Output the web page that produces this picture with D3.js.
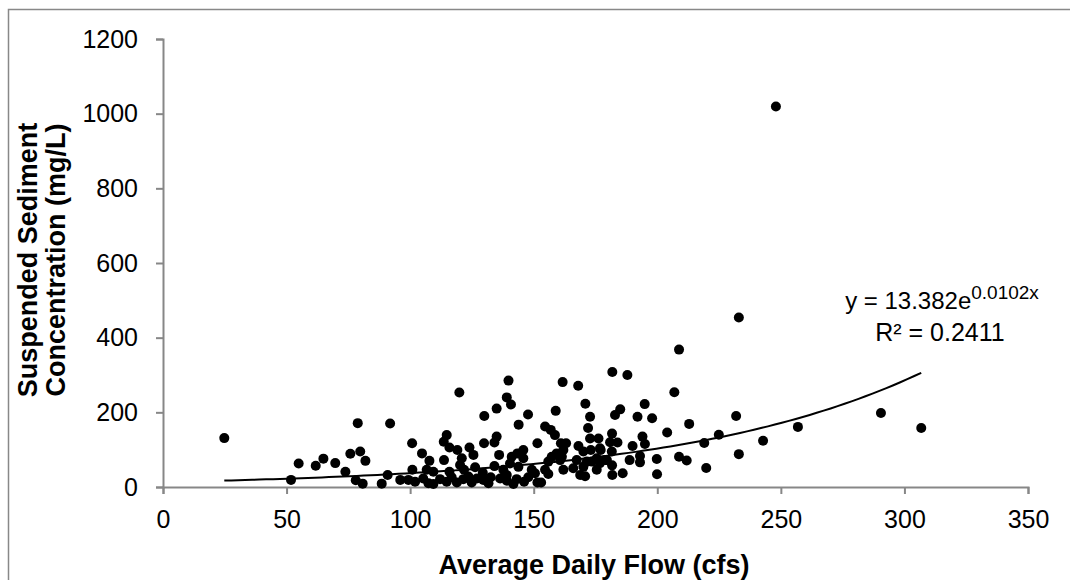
<!DOCTYPE html>
<html>
<head>
<meta charset="utf-8">
<script src="https://cdn.jsdelivr.net/npm/d3@7"></script>
<style>
  body { margin: 0; background: #fff; }
  svg { font-family: "Liberation Sans", Arial, sans-serif; }
</style>
</head>
<body>
<svg width="1070" height="580"></svg>
<script>
// flow (cfs), concentration (mg/L)
const flow = [
  24.8, 51.8, 54.9, 61.8, 64.9, 69.7, 73.8, 75.8, 78.8, 79.8, 81.9, 78, 80.8, 88.5,
  90.9, 91.9, 96,
  119.9, 139.1, 140.8, 135, 130, 147.7, 143.9, 100.8, 104.8, 107.8, 114.8, 113.6, 115.9,
  119.1, 124, 125.6, 120.9, 120.2, 113.7, 129.9, 134.1, 135, 136, 151.5, 145.8, 143.4,
  141.1, 145.8, 140.4, 143.8, 134.1, 126.3, 121.8, 100.9, 106.7, 109.4, 115.9, 129.4,
  137.7, 149.2, 139.1, 150.5,
  99.3, 102, 105.3, 107.4, 109.4, 112.1, 114.8, 116.8, 118.9, 121.5, 123.6, 124.9, 127,
  129.6, 131.7, 132.6, 136.4, 139.1, 141.8, 143.1, 146.1, 147.8, 151.5, 153,
  139.8, 161.7, 168,
  154.6, 156.9, 158.6, 158.9, 161, 163.1, 162, 159.3, 157.3, 161.4, 168.1, 155.9, 160.7,
  167.4, 154.6, 162, 166, 168.8, 155.9,
  170.9, 172.8, 172, 182.9, 185, 194.9, 192, 197.9, 181.8, 187.9, 172.8, 176.2, 181.7,
  183.9, 180.9, 194, 195, 190, 176.8, 181.6, 170.1, 173.1, 177.1, 173.5, 171.5, 176.8,
  178.9, 175.5, 179.6, 181.7, 188.8, 193, 193, 199.8, 170.1, 175.5, 170.8, 181.8, 186,
  199.9, 204, 206.9, 208.8, 208.8, 211.9, 212.9, 219, 219.8, 224.9, 231.9, 233, 233,
  242.8, 248, 256.9, 290.5, 306.8
];
const ssc = [
  131, 19, 63, 57, 76, 64, 41, 89, 171, 95, 70, 18, 9, 9,
  32, 170, 19,
  253, 240, 221, 210, 190, 194, 167, 117, 90, 70, 139, 121, 106,
  99, 106, 86, 77, 59, 72, 117, 119, 135, 86, 117, 99, 90,
  81, 77, 63, 54, 56, 53, 46, 46, 46, 41, 41, 38,
  46, 46, 32, 37,
  19, 14, 23, 10, 8, 21, 14, 26, 12, 21, 28, 12, 23,
  19, 10, 26, 23, 17, 8, 21, 14, 26, 12, 12,
  285, 281, 271,
  162, 153, 139, 204, 117, 117, 99, 90, 81, 81, 110, 68, 72,
  72, 46, 46, 50, 32, 35,
  223, 188, 158, 193, 208, 222, 188, 184, 308, 300, 130, 130, 143,
  119, 120, 135, 115, 110, 104, 95, 95, 99, 99, 68, 68, 64,
  72, 77, 72, 58, 72, 66, 83, 75, 54, 46, 29, 32, 37,
  34, 146, 254, 368, 81, 71, 169, 118, 51, 140, 190, 454, 88,
  124, 1019, 161, 198, 158
];
const xTicks = [0, 50, 100, 150, 200, 250, 300, 350];
const yTicks = [0, 200, 400, 600, 800, 1000, 1200];
// exponential fit shown on the chart
const fitA = 13.382;
const fitB = 0.0102;

const svg = d3.select("svg");
const plotL = 163, plotR = 1028, plotT = 39, plotB = 487;

const x = d3.scaleLinear().domain([0, 350]).range([plotL, plotR]);
const y = d3.scaleLinear().domain([0, 1200]).range([plotB, plotT]);

svg.append("rect")
  .attr("x", 8.5).attr("y", 9.5)
  .attr("width", 1200).attr("height", 700)
  .attr("fill", "none").attr("stroke", "#888").attr("stroke-width", 1.5);

const xAxis = svg.append("g")
  .attr("transform", `translate(0,${plotB})`)
  .call(d3.axisBottom(x).tickValues(xTicks).tickFormat(d3.format("d"))
    .tickSize(7).tickPadding(16));
const yAxis = svg.append("g")
  .attr("transform", `translate(${plotL},0)`)
  .call(d3.axisLeft(y).tickValues(yTicks).tickFormat(d3.format("d"))
    .tickSize(7).tickPadding(18));

[xAxis, yAxis].forEach((g) => {
  g.selectAll("path, line").attr("stroke", "#878787").attr("stroke-width", 2);
  g.selectAll("text").attr("fill", "#000").style("font-size", "25px")
    .style("font-family", "'Liberation Sans', Arial, sans-serif");
});

svg.append("g")
  .selectAll("circle")
  .data(flow.map((f, i) => [f, ssc[i]]))
  .join("circle")
  .attr("cx", (d) => x(d[0]))
  .attr("cy", (d) => y(d[1]))
  .attr("r", 5)
  .attr("fill", "#000");

const xmin = d3.min(flow), xmax = d3.max(flow);
const fitPts = d3.range(0, 101).map((i) => {
  const fx = xmin + (xmax - xmin) * i / 100;
  return [fx, fitA * Math.exp(fitB * fx)];
});
svg.append("path")
  .attr("d", d3.line().x((d) => x(d[0])).y((d) => y(d[1]))(fitPts))
  .attr("fill", "none")
  .attr("stroke", "#000")
  .attr("stroke-width", 2);

const eq = svg.append("text")
  .attr("x", 942).attr("y", 309)
  .attr("text-anchor", "middle")
  .style("font-size", "24px");
eq.append("tspan").text("y = 13.382e");
eq.append("tspan").attr("dy", -10).style("font-size", "19px").text("0.0102x");
svg.append("text")
  .attr("x", 940).attr("y", 341)
  .attr("text-anchor", "middle")
  .style("font-size", "25px")
  .text("R² = 0.2411");

svg.append("text")
  .attr("x", 594).attr("y", 574)
  .attr("text-anchor", "middle")
  .style("font-size", "27px").style("font-weight", "bold")
  .text("Average Daily Flow (cfs)");

const yt = svg.append("text")
  .attr("transform", `translate(0,260) rotate(-90)`)
  .attr("text-anchor", "middle")
  .style("font-size", "27px").style("font-weight", "bold");
yt.append("tspan").attr("x", 0).attr("y", 37).text("Suspended Sediment");
yt.append("tspan").attr("x", 0).attr("y", 65).text("Concentration (mg/L)");
</script>
</body>
</html>
